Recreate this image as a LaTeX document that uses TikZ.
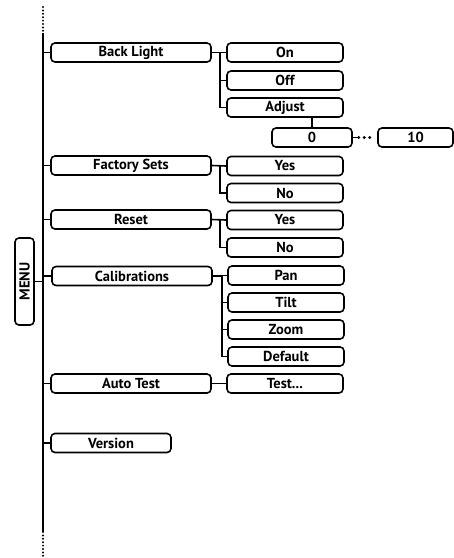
\documentclass[tikz,border=0pt]{standalone}
\usepackage{fontspec}
\setmainfont{PT Sans}
\begin{document}
\begin{tikzpicture}[x=1pt,y=-1pt,
  line width=1.6pt,
  box/.style={draw, rounded corners=4pt, minimum height=19pt, inner sep=0pt,
    font=\bfseries\fontsize{14.5}{15}\selectfont},
  lone/.style={box, minimum width=160pt},
  ltwo/.style={box, minimum width=116pt},
  conn/.style={line width=1.6pt},
  dots/.style={line width=2.2pt, line cap=round, dash pattern=on 0pt off 3.4pt},
  bigdots/.style={line width=3.2pt, line cap=round, dash pattern=on 0pt off 5.5pt}]
\useasboundingbox (0,0) rectangle (454,558);
% main spine
\coordinate (mt) at (43,7);
\coordinate (ms) at (43,33);
\coordinate (me) at (43,532);
\coordinate (mb) at (43,556);
\draw[dots] (mt) -- (ms);
\draw[conn] (ms) -- (me);
\draw[dots] (me) -- (mb);
% MENU
\node[box, minimum width=87pt, rotate=90] (menu) at (24.5,281.5) {MENU};
\draw[conn] (menu.south) -- (menu.south -| ms);
% level 1
\node[lone] (bl) at (131,52.5) {Back Light};
\node[lone] (fs) at (131,165.5) {Factory Sets};
\node[lone] (rs) at (131,219.5) {Reset};
\node[lone] (cal) at (132,276) {Calibrations};
\node[lone] (at) at (131,383.5) {Auto Test};
\node[box, minimum width=120pt] (ver) at (111,443) {Version};
\foreach \n in {bl,fs,rs,cal,at,ver}
  \draw[conn] (\n.west) -- (\n.west -| ms);
% Back Light children
\node[ltwo] (on) at (285,52.5) {On};
\node[ltwo] (off) at (285,80.5) {Off};
\node[ltwo] (adj) at (285,107.5) {Adjust};
\coordinate (b1) at (220,52.5);
\draw[conn] (bl.east) -- (on.west);
\draw[conn] (b1) |- (off.west);
\draw[conn] (b1) |- (adj.west);
\node[box, minimum width=80pt] (zero) at (312,137.5) {0};
\node[box, minimum width=75pt] (ten) at (415.5,137.5) {10};
\draw[conn] (zero.north) -- (zero.north |- adj.south);
\coordinate (d1) at ([xshift=6pt]zero.east);
\coordinate (d2) at ([xshift=-6.5pt]ten.west);
\draw[conn] (zero.east) -- (d1);
\draw[bigdots] (d1) -- (d2);
% Factory Sets children
\node[ltwo] (fy) at (285,166) {Yes};
\node[ltwo] (fn) at (285,193) {No};
\coordinate (b2) at (220,166);
\draw[conn] (fs.east) -- (fy.west);
\draw[conn] (b2) |- (fn.west);
% Reset children
\node[ltwo] (ry) at (285,220) {Yes};
\node[ltwo] (rn) at (285,247.5) {No};
\coordinate (b3) at (220,220);
\draw[conn] (rs.east) -- (ry.west);
\draw[conn] (b3) |- (rn.west);
% Calibrations children
\node[ltwo] (pan) at (286,275.5) {Pan};
\node[ltwo] (tilt) at (286,302.5) {Tilt};
\node[ltwo] (zoom) at (286,329.5) {Zoom};
\node[ltwo] (def) at (286,356.5) {Default};
\coordinate (b4) at (222,276);
\draw[conn] (cal.east) -- (b4) |- (pan.west);
\draw[conn] (b4) |- (tilt.west);
\draw[conn] (b4) |- (zoom.west);
\draw[conn] (b4) |- (def.west);
% Auto Test child
\node[ltwo] (test) at (285,383.5) {Test...};
\draw[conn] (at.east) -- (test.west);
\end{tikzpicture}
\end{document}
